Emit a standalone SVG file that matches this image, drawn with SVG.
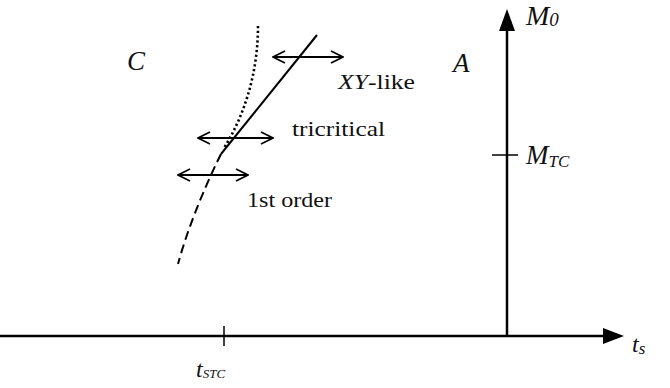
<svg xmlns="http://www.w3.org/2000/svg" width="670" height="388" viewBox="0 0 670 388">
<defs>
<style>
.ax{stroke:#000;stroke-width:2.5;fill:none}
.tk{stroke:#000;stroke-width:1.5;fill:none}
.cv{stroke:#000;stroke-width:2;fill:none}
.dot{stroke:#000;stroke-width:2.6;fill:none;stroke-dasharray:2.2,2.6}
.dbl{stroke:#000;stroke-width:1.8;fill:none;marker-start:url(#chev);marker-end:url(#chev)}
.it{font-style:italic}
</style>
<marker id="chev" viewBox="0 0 14 14" refX="13" refY="7" markerWidth="14" markerHeight="14" markerUnits="userSpaceOnUse" orient="auto-start-reverse">
<path d="M1,1 L13,7 L1,13" fill="none" stroke="#000" stroke-width="1.8"/>
</marker>
</defs>
<g id="axes">
<line class="ax" x1="0" y1="336" x2="606" y2="336"/>
<polygon points="603,328 624,336 603,344" fill="#000"/>
<line class="ax" x1="507" y1="336" x2="507" y2="28"/>
<polygon points="499,31 507,9 515,31" fill="#000"/>
<line class="tk" x1="492" y1="155" x2="518" y2="155"/>
<line class="tk" x1="224" y1="326" x2="224" y2="346"/>
</g>
<g id="curves">
<path class="dot" d="M258,26 C258,70 246,113 224,148"/>
<path class="cv" d="M317,35 L221,154"/>
<path class="cv" d="M221,154 C210,176 190,220 178,264" stroke-dasharray="9,5"/>
</g>
<g id="connectors">
<line class="dbl" x1="273" y1="57" x2="343" y2="57"/>
<line class="dbl" x1="198" y1="138" x2="273" y2="138"/>
<line class="dbl" x1="178" y1="175" x2="248" y2="175"/>
</g>
<g id="labels" font-family="'Liberation Serif', 'Times New Roman', serif" fill="#111">
<text class="it" x="127" y="70" font-size="27">C</text>
<text class="it" x="453" y="72" font-size="27">A</text>
<text x="338" y="89" font-size="21" textLength="77" lengthAdjust="spacingAndGlyphs"><tspan class="it">XY</tspan>-like</text>
<text x="292" y="136" font-size="21" textLength="93" lengthAdjust="spacingAndGlyphs">tricritical</text>
<text x="247" y="207" font-size="21" textLength="85" lengthAdjust="spacingAndGlyphs">1st order</text>
<text class="it" x="526" y="25" font-size="28">M<tspan font-size="19" dy="1">0</tspan></text>
<text class="it" x="526" y="164" font-size="27">M<tspan font-size="17" dy="3">TC</tspan></text>
<text class="it" x="632" y="352" font-size="24">t<tspan font-size="17" dy="2">s</tspan></text>
<text class="it" x="196" y="377" font-size="24">t<tspan font-size="13" dy="1">STC</tspan></text>
</g>
</svg>
